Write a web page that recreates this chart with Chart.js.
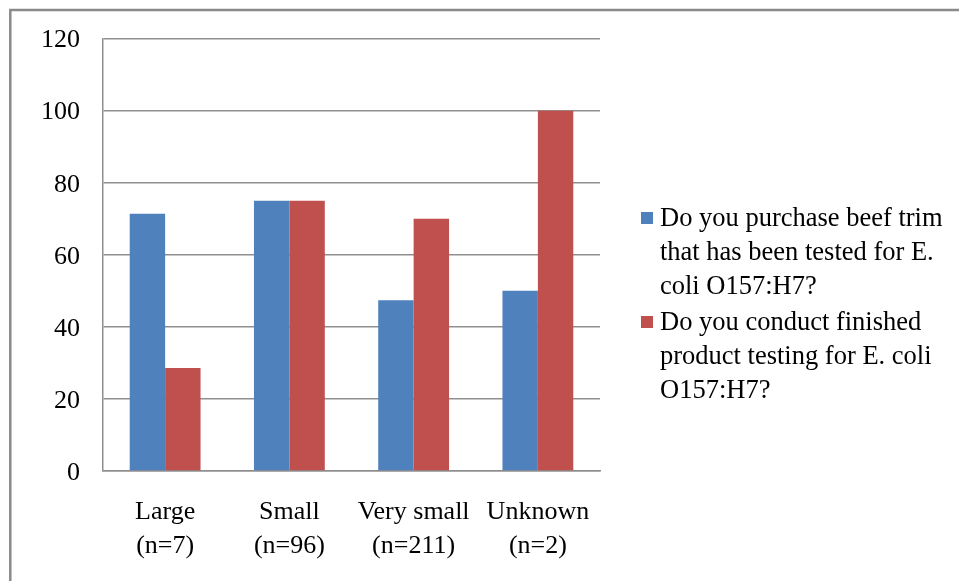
<!DOCTYPE html>
<html>
<head>
<meta charset="utf-8">
<script src="https://cdn.jsdelivr.net/npm/chart.js@4/dist/chart.umd.min.js"></script>
<style>
  html, body { margin: 0; padding: 0; background: #fff; }
  canvas { display: block; }
</style>
</head>
<body>
<canvas id="chart" width="959" height="581"></canvas>
<script>
// Establishment size groups (two-line axis labels)
const categories = [
  ['Large', '(n=7)'],
  ['Small', '(n=96)'],
  ['Very small', '(n=211)'],
  ['Unknown', '(n=2)']
];

// Percent answering "yes"
const trimTested = [71.4, 75, 47.4, 50];
const finishedTesting = [28.6, 75, 70, 100];

// Legend text, already broken into lines
const trimLabelLines = ['Do you purchase beef trim', 'that has been tested for E.', 'coli O157:H7?'];
const finishedLabelLines = ['Do you conduct finished', 'product testing for E. coli', 'O157:H7?'];

// Y axis ticks
const yTicks = [0, 20, 40, 60, 80, 100, 120];

const SERIF = '"Liberation Serif", "Times New Roman", serif';
const GRID = '#8f8f8f';

// Grey frame along the top and left edges of the figure
const framePlugin = {
  id: 'frame',
  beforeDraw(chart) {
    const ctx = chart.ctx;
    ctx.save();
    ctx.fillStyle = '#ffffff';
    ctx.fillRect(0, 0, chart.width, chart.height);
    ctx.strokeStyle = '#8a8a8a';
    ctx.lineWidth = 2.5;
    ctx.beginPath();
    ctx.moveTo(10.3, chart.height);
    ctx.lineTo(10.3, 10);
    ctx.lineTo(chart.width, 10);
    ctx.stroke();
    ctx.restore();
  }
};

// Legend with wrapped entries drawn to the right of the plot
const wrappedLegend = {
  id: 'wrappedLegend',
  afterDraw(chart) {
    const ctx = chart.ctx;
    const area = chart.chartArea;
    const x0 = area.right + 41;
    const textX = area.right + 60;
    const lineH = 34;
    const itemGap = 2;
    let y = 219;
    ctx.save();
    ctx.font = '26.5px ' + SERIF;
    ctx.textBaseline = 'middle';
    ctx.textAlign = 'left';
    chart.data.datasets.forEach(ds => {
      ctx.fillStyle = ds.backgroundColor;
      ctx.fillRect(x0, y - 7, 12, 12);
      ctx.fillStyle = '#000';
      ds.legendLines.forEach((line, i) => {
        ctx.fillText(line, textX, y + i * lineH);
      });
      y += ds.legendLines.length * lineH + itemGap;
    });
    ctx.restore();
  }
};

new Chart(document.getElementById('chart'), {
  type: 'bar',
  data: {
    labels: categories,
    datasets: [
      {
        label: trimLabelLines.join(' '),
        legendLines: trimLabelLines,
        data: trimTested,
        backgroundColor: '#4F81BD'
      },
      {
        label: finishedLabelLines.join(' '),
        legendLines: finishedLabelLines,
        data: finishedTesting,
        backgroundColor: '#C0504D'
      }
    ]
  },
  options: {
    responsive: false,
    devicePixelRatio: 1,
    animation: false,
    layout: { padding: { top: 38, right: 359, left: 0, bottom: 0 } },
    datasets: {
      bar: { barPercentage: 1, categoryPercentage: 0.57 }
    },
    plugins: {
      legend: { display: false },
      tooltip: { enabled: false }
    },
    scales: {
      x: {
        grid: { display: false, drawTicks: false },
        border: { display: true, color: GRID, width: 1.5 },
        ticks: {
          color: '#000',
          font: { family: SERIF, size: 26, lineHeight: 34 / 26 },
          padding: 24,
          maxRotation: 0,
          autoSkip: false
        },
        afterFit(scale) { scale.height = 110; }
      },
      y: {
        min: 0,
        max: 120,
        afterBuildTicks(scale) { scale.ticks = yTicks.map(v => ({ value: v })); },
        grid: { color: GRID, lineWidth: 1.5, drawTicks: false },
        border: { display: true, color: GRID, width: 1.5 },
        ticks: {
          color: '#000',
          font: { family: SERIF, size: 26 },
          padding: 23,
          labelOffset: 2
        },
        afterFit(scale) { scale.width = 103; }
      }
    }
  },
  plugins: [framePlugin, wrappedLegend]
});
</script>
</body>
</html>
